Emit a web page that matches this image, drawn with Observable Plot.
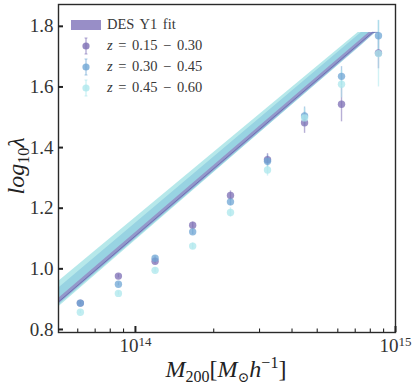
<!DOCTYPE html>
<html><head><meta charset="utf-8">
<script src="https://cdn.jsdelivr.net/npm/d3@7"></script>
<script src="https://cdn.jsdelivr.net/npm/@observablehq/plot@0.6"></script>
<style>
body{margin:0;background:#fff;}
#wrap{position:relative;width:416px;height:388px;font-family:"Liberation Serif","DejaVu Serif",serif;color:#222;}
.ov{position:absolute;white-space:nowrap;line-height:1;}
.it{font-style:italic;}
.up{font-style:normal;}
#legend{position:absolute;left:68px;top:14px;font-size:14.5px;color:#383838;}
.row{display:flex;align-items:center;height:21px;}
.row svg{display:block;}
.lt{margin-left:3px;word-spacing:2px;}
</style></head><body><div id="wrap"></div>
<script>
// ---- data ----
const mass = [6.14e13, 8.6e13, 1.19e14, 1.66e14, 2.32e14, 3.22e14, 4.47e14, 6.2e14, 8.6e14];
const lamZ1 = [0.887, 0.976, 1.025, 1.144, 1.242, 1.360, 1.482, 1.543, 1.712];
const errZ1 = [0.005, 0.006, 0.008, 0.010, 0.015, 0.020, 0.035, 0.058, 0.052];
const lamZ2 = [0.887, 0.949, 1.035, 1.122, 1.221, 1.355, 1.504, 1.635, 1.769];
const errZ2 = [0.004, 0.005, 0.007, 0.009, 0.013, 0.020, 0.030, 0.032, 0.050];
const lamZ3 = [0.857, 0.919, 0.995, 1.075, 1.186, 1.326, 1.498, 1.609, 1.710];
const errZ3 = [0.005, 0.006, 0.008, 0.010, 0.015, 0.020, 0.030, 0.045, 0.110];
const seriesNames = ["z = 0.15 − 0.30", "z = 0.30 − 0.45", "z = 0.45 − 0.60"];
const seriesColors = ["#7c6db4", "#6fa6d4", "#ace7ec"];

// DES Y1 fit bands (edges)
const bandMassZ3 = [5.06e13, 7.19e14, 8.41e14, 8.61e14];
const bandLoZ3 = [0.874, 1.729, 1.78, 1.78];
const bandHiZ3 = [0.958, 1.78, 1.78, 1.78];
const bandMassZ2 = [5.06e13, 7.40e14, 8.38e14, 8.61e14];
const bandLoZ2 = [0.880, 1.737, 1.78, 1.78];
const bandHiZ2 = [0.936, 1.78, 1.78, 1.78];
const bandMassZ1 = [5.06e13, 7.92e14, 8.38e14, 8.61e14];
const bandLoZ1 = [0.884, 1.762, 1.78, 1.78];
const bandHiZ1 = [0.902, 1.78, 1.78, 1.78];
const fitLineMass = [5.06e13, 8.15e14, 8.61e14];
const fitLineZ1 = [0.891, 1.78, 1.78];
const bandColors = ["#aee6e8", "#84c4dc", "#9288c4"];

const xMajor = [1e14, 1e15];
const xMinor = [6e13, 7e13, 8e13, 9e13, 2e14, 3e14, 4e14, 5e14, 6e14, 7e14, 8e14, 9e14];
const yTicks = [0.8, 1.0, 1.2, 1.4, 1.6, 1.8];

// ---- tables ----
const lamAll = [lamZ1, lamZ2, lamZ3], errAll = [errZ1, errZ2, errZ3];
const pts = [];
lamAll.forEach((arr, s) => arr.forEach((v, i) => pts.push({m: mass[i], v, e: errAll[s][i], s})));
const mkBand = (ms, lo, hi) => ms.map((m, i) => ({m, lo: lo[i], hi: hi[i]}));
const bands = [mkBand(bandMassZ3, bandLoZ3, bandHiZ3), mkBand(bandMassZ2, bandLoZ2, bandHiZ2), mkBand(bandMassZ1, bandLoZ1, bandHiZ1)];
const fitLine = fitLineMass.map((m, i) => ({m, v: fitLineZ1[i]}));

const font = "Liberation Serif";
const chart = Plot.plot({
  width: 416, height: 388,
  marginLeft: 58, marginRight: 21, marginTop: 4, marginBottom: 56,
  style: {fontFamily: font, background: "white", color: "#222"},
  x: {type: "log", domain: [5.06e13, 1e15]},
  y: {domain: [0.79, 1.872]},
  marks: [
    Plot.areaY(bands[0], {x: "m", y1: "lo", y2: "hi", fill: bandColors[0], fillOpacity: 0.9}),
    Plot.areaY(bands[1], {x: "m", y1: "lo", y2: "hi", fill: bandColors[1], fillOpacity: 0.6}),
    Plot.areaY(bands[2], {x: "m", y1: "lo", y2: "hi", fill: bandColors[2], fillOpacity: 0.8}),
    Plot.line(fitLine, {x: "m", y: "v", stroke: "#5a62ad", strokeWidth: 1, strokeOpacity: 0.7}),
    Plot.ruleX(pts, {x: "m", y1: d => d.v - d.e, y2: d => d.v + d.e, stroke: d => seriesColors[d.s], strokeWidth: 1.4, strokeOpacity: 0.55}),
    Plot.dot(pts, {x: "m", y: "v", r: 3.7, fill: d => seriesColors[d.s], fillOpacity: 0.75, stroke: "none"}),
    Plot.frame({stroke: "#2a2a2a", strokeWidth: 1.4}),
    Plot.axisX({ticks: xMinor, tickSize: -3.5, tickFormat: () => "", stroke: "#222", strokeWidth: 1.1, label: null}),
    Plot.axisX({ticks: xMajor, tickSize: -6, tickFormat: () => "", stroke: "#222", strokeWidth: 2, label: null}),
    Plot.axisX({ticks: xMajor, tickSize: 0, tickPadding: 6, tickFormat: d => "10^" + Math.round(Math.log10(d)), fontSize: 19, fill: "#333", label: null}),
    Plot.axisY({ticks: yTicks, tickSize: -5, tickFormat: () => "", stroke: "#222", strokeWidth: 2, label: null}),
    Plot.axisY({ticks: yTicks, tickSize: 0, tickPadding: 5, tickFormat: d3.format(".1f"), fontSize: 19, fill: "#333", label: null})
  ]
});
const wrap = document.getElementById("wrap");
wrap.appendChild(chart);

// superscripts for the log tick labels
d3.select(chart).selectAll("text").each(function() {
  const t = this.textContent;
  if (t.includes("^")) {
    const [b, e] = t.split("^");
    const sel = d3.select(this);
    sel.text(null);
    sel.append("tspan").text(b);
    sel.append("tspan").attr("dy", "-0.5em").attr("font-size", "13px").text(e);
  }
});

// axis titles
const yl = document.createElement("div");
yl.className = "ov it";
yl.style.cssText = "left:16px;top:166px;font-size:24px;transform:translate(-50%,-50%) rotate(-90deg);";
yl.innerHTML = 'log<span class="up" style="font-size:16px;position:relative;top:5px">10</span>λ';
wrap.appendChild(yl);

const xl = document.createElement("div");
xl.className = "ov";
xl.style.cssText = "left:226px;top:369px;font-size:24px;transform:translate(-50%,-50%);";
xl.innerHTML = '<span class="it">M</span><span style="font-size:16px;position:relative;top:5px">200</span>[<span class="it">M</span><span style="font-size:14px;position:relative;top:5px">⊙</span><span class="it">h</span><span style="font-size:16px;position:relative;top:-9px">−1</span>]';
wrap.appendChild(xl);

// legend
const lg = document.createElement("div");
lg.id = "legend";
let html = `<div class="row"><svg width="36" height="14"><rect x="3" y="2" width="30" height="10" fill="${bandColors[2]}" fill-opacity="0.95"/></svg><span class="lt">DES Y1 fit</span></div>`;
seriesNames.forEach((n, i) => {
  const [z, rest] = [n.slice(0, 1), n.slice(1)];
  html += `<div class="row"><svg width="36" height="20"><line x1="18" x2="18" y1="2" y2="18" stroke="${seriesColors[i]}" stroke-opacity="0.6" stroke-width="1.3"/><line x1="16.5" x2="19.5" y1="2" y2="2" stroke="${seriesColors[i]}" stroke-opacity="0.6"/><line x1="16.5" x2="19.5" y1="18" y2="18" stroke="${seriesColors[i]}" stroke-opacity="0.6"/><circle cx="18" cy="10" r="3.6" fill="${seriesColors[i]}" fill-opacity="0.8"/></svg><span class="lt"><span class="it">${z}</span>${rest}</span></div>`;
});
lg.innerHTML = html;
wrap.appendChild(lg);
</script></body></html>
